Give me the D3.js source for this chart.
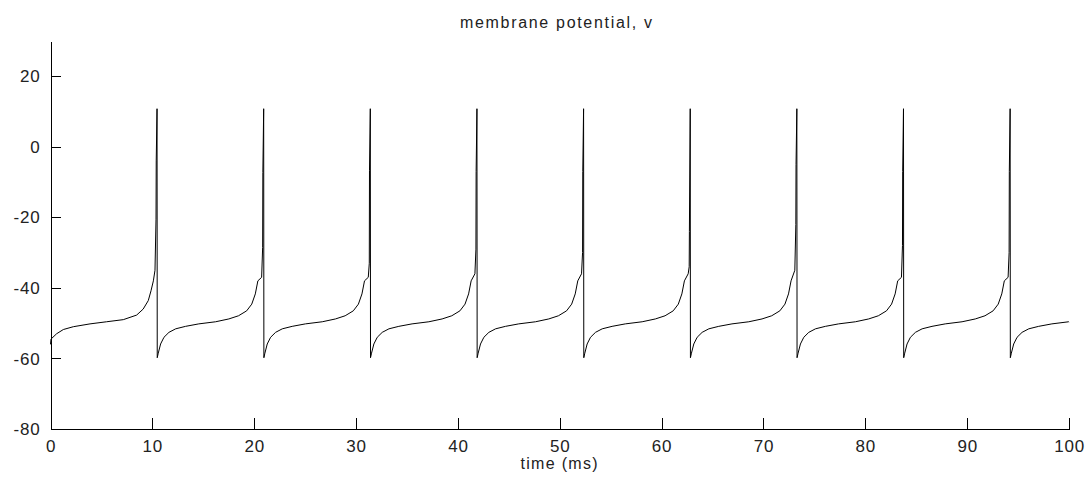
<!DOCTYPE html>
<html>
<head>
<meta charset="utf-8">
<script src="https://cdn.jsdelivr.net/npm/d3@7"></script>
<style>
  body { margin: 0; background: #fff; }
  text { font-family: "Liberation Sans", Arial, sans-serif; fill: #222; }
  .axis path, .axis line { stroke: #000; shape-rendering: crispEdges; }
  .trace { fill: none; stroke: #000; stroke-width: 1; }
</style>
</head>
<body>
<div id="chart"></div>
<script>
// values
var xTicks = [0, 10, 20, 30, 40, 50, 60, 70, 80, 90, 100];
var yTicks = [-80, -60, -40, -20, 0, 20];

// start of the trace, before the first spike (ms, mV)
var startTimes  = [0, 0.05, 0.6, 1.26, 2.24, 3.88, 5.5, 7.15, 8.46, 9.1, 9.6, 9.87, 10.1];
var startValues = [-56, -54.5, -53, -51.8, -51, -50.2, -49.6, -49, -47.7, -46, -43.6, -40.8, -38];

// spike times and the upstroke samples just before each peak
var spikeTimes = [10.46, 20.93, 31.40, 41.87, 52.34, 62.81, 73.28, 83.75, 94.22];
var upA = [-35, -37, -37, -36, -36, -36, -35, -37, -37];
var upB = [-20.5, -28.5, -33, -29, -30, -34, -22, -28, -30];
var upC = [-4, -7.3, -6.8, -7, -7, -24, -5, -7, -7];
var peakValue = 10.8;
var resetValue = -59.8;

// recovery after a reset, read from one interspike interval (ms after spike, mV)
var recoveryOffsets = [0.12, 0.35, 0.68, 1.17, 1.83, 2.8, 4.1, 5.75, 7.05, 8.0, 8.8, 9.3, 9.65, 9.9];
var recoveryValues  = [-58.5, -55.9, -54.0, -52.6, -51.6, -50.9, -50.2, -49.6, -48.8, -47.9, -46.5, -44.6, -41.7, -38.0];
var endTime = 100, endValue = -49.7;

var width = 1086, height = 489;
var margin = {left: 50.5, right: 17, top: 41, bottom: 60};

var svg = d3.select("#chart").append("svg")
    .attr("width", width)
    .attr("height", height);

var x = d3.scaleLinear().domain([0, 100]).range([margin.left, 1069]);
var y = d3.scaleLinear().domain([-80, 30]).range([429, margin.top]);

// build the trace
var trace = [];
startTimes.forEach(function(t, i) { trace.push([t, startValues[i]]); });
spikeTimes.forEach(function(s, k) {
  trace.push([s - 0.2, upA[k]]);
  trace.push([s - 0.1, upB[k]]);
  trace.push([s - 0.08, upC[k]]);
  trace.push([s, peakValue]);
  trace.push([s + 0.02, resetValue]);
  recoveryOffsets.forEach(function(o, j) {
    if (s + o < endTime) trace.push([s + o, recoveryValues[j]]);
  });
});
trace.push([endTime, endValue]);

var line = d3.line()
    .x(function(d) { return x(d[0]); })
    .y(function(d) { return y(d[1]); });

svg.append("path")
    .datum(trace)
    .attr("class", "trace")
    .attr("d", line);

// plain hyphen minus like the original
var fmt = function(d) { return String(d); };

var gx = svg.append("g")
    .attr("class", "axis")
    .attr("transform", "translate(0,429)")
    .call(d3.axisBottom(x).tickValues(xTicks).tickFormat(fmt)
      .tickSizeInner(-11).tickSizeOuter(0).tickPadding(11));

var gy = svg.append("g")
    .attr("class", "axis")
    .attr("transform", "translate(" + margin.left + ",0)")
    .call(d3.axisLeft(y).tickValues(yTicks).tickFormat(fmt)
      .tickSizeInner(-10).tickSizeOuter(0).tickPadding(10));

svg.selectAll(".axis text")
    .style("font-size", "17px")
    .style("letter-spacing", "0.8px")
    .attr("fill", "#222");
gy.selectAll("text").attr("dy", "0.33em");

svg.append("text")
    .attr("x", 556)
    .attr("y", 28)
    .attr("text-anchor", "middle")
    .style("font-size", "16px")
    .attr("textLength", 192)
    .attr("lengthAdjust", "spacing")
    .text("membrane potential, v");

svg.append("text")
    .attr("x", 559)
    .attr("y", 469)
    .attr("text-anchor", "middle")
    .style("font-size", "16px")
    .attr("textLength", 77)
    .attr("lengthAdjust", "spacing")
    .text("time (ms)");
</script>
</body>
</html>
